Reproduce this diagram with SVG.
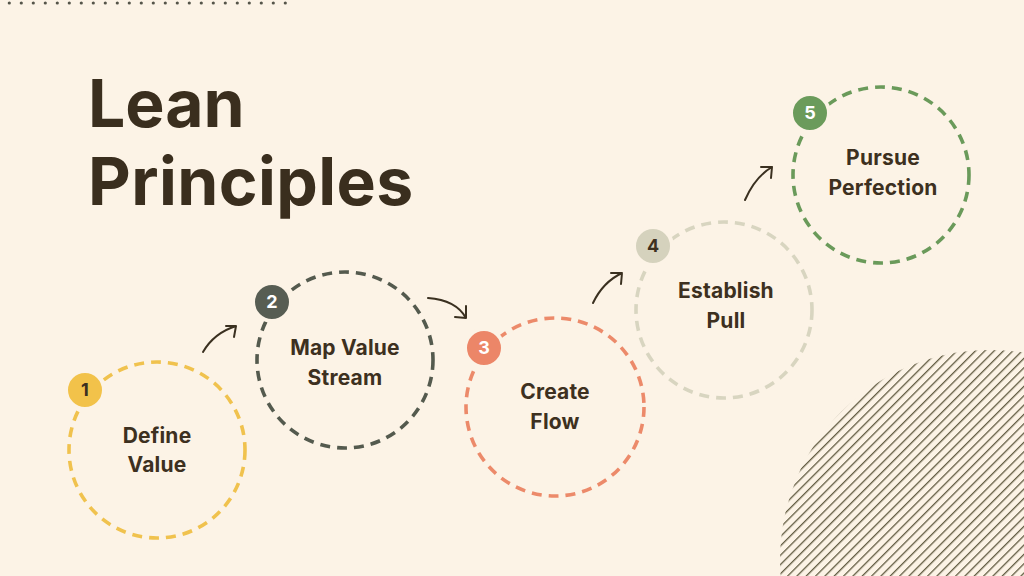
<svg xmlns="http://www.w3.org/2000/svg" width="1024" height="576" viewBox="0 0 1024 576">
<defs>
<style>
.ring{fill:none;stroke-width:3.6;stroke-dasharray:10 7;stroke-linecap:butt}
.badge{stroke:#fcf3e6;stroke-width:4}
.num{font-family:Inter,"Noto Sans",sans-serif;font-weight:700;font-size:18px;text-anchor:middle}
.lbl{font-family:Inter,"Noto Sans",sans-serif;font-weight:700;font-size:21px;fill:#3d3020;text-anchor:middle;letter-spacing:0.2px}
.title{font-family:Inter,"Noto Sans",sans-serif;font-weight:700;font-size:66px;fill:#3a2e1e}
.arr{fill:none;stroke:#3a3020;stroke-width:2;stroke-linecap:round;stroke-linejoin:round}
</style>
<pattern id="hatch" patternUnits="userSpaceOnUse" width="6.6" height="6.6" patternTransform="rotate(45)">
<rect width="6.6" height="6.6" fill="#fcf3e6"/>
<line x1="0" y1="0" x2="0" y2="6.6" stroke="#605a40" stroke-width="2.6"/>
</pattern>
<clipPath id="clipc"><rect width="1024" height="576"/></clipPath>
</defs>
<rect width="1024" height="576" fill="#fcf3e6"/>
<g id="dots" fill="#55554a">
<circle cx="9.3" cy="3" r="1.6"/><circle cx="21.3" cy="3" r="1.6"/><circle cx="33.3" cy="3" r="1.6"/><circle cx="45.3" cy="3" r="1.6"/><circle cx="57.3" cy="3" r="1.6"/><circle cx="69.3" cy="3" r="1.6"/><circle cx="81.3" cy="3" r="1.6"/><circle cx="93.3" cy="3" r="1.6"/><circle cx="105.3" cy="3" r="1.6"/><circle cx="117.3" cy="3" r="1.6"/><circle cx="129.3" cy="3" r="1.6"/><circle cx="141.3" cy="3" r="1.6"/><circle cx="153.3" cy="3" r="1.6"/><circle cx="165.3" cy="3" r="1.6"/><circle cx="177.3" cy="3" r="1.6"/><circle cx="189.3" cy="3" r="1.6"/><circle cx="201.3" cy="3" r="1.6"/><circle cx="213.3" cy="3" r="1.6"/><circle cx="225.3" cy="3" r="1.6"/><circle cx="237.3" cy="3" r="1.6"/><circle cx="249.3" cy="3" r="1.6"/><circle cx="261.3" cy="3" r="1.6"/><circle cx="273.3" cy="3" r="1.6"/><circle cx="285.3" cy="3" r="1.6"/>
</g>
<circle id="hatched" cx="990" cy="560" r="210" fill="url(#hatch)" clip-path="url(#clipc)"/>
<g id="title">
<text class="title" x="88" y="127">Lean</text>
<text class="title" x="88" y="205" letter-spacing="0.4">Principles</text>
</g>
<g id="connectors">
<path class="arr" d="M203,352 Q214,333 236,326 M226,326 L236,326 L234,337"/>
<path class="arr" d="M428,298 Q456,300 466,318 M466,306 L466,318 L455,317"/>
<path class="arr" d="M593,303 Q603,282 622,273 M611,273 L622,273 L621,284"/>
<path class="arr" d="M745,200 Q755,177 772,167 M761,167 L772,167 L771,178"/>
</g>
<g id="node1">
<circle class="ring" cx="157" cy="450" r="88" stroke="#f0c24e"/>
<circle class="badge" cx="85" cy="390" r="19" fill="#f2c24a"/>
<text class="num" x="85" y="396" fill="#3d3020">1</text>
<text class="lbl" x="157" y="443">Define</text>
<text class="lbl" x="157" y="472">Value</text>
</g>
<g id="node2">
<circle class="ring" cx="345" cy="360" r="88" stroke="#545a4e"/>
<circle class="badge" cx="272" cy="302" r="19" fill="#575d53"/>
<text class="num" x="272" y="308" fill="#ffffff">2</text>
<text class="lbl" x="345" y="355">Map Value</text>
<text class="lbl" x="345" y="385">Stream</text>
</g>
<g id="node3">
<circle class="ring" cx="555" cy="407" r="89" stroke="#ec8a6a"/>
<circle class="badge" cx="484" cy="348" r="19" fill="#ec8668"/>
<text class="num" x="484" y="354" fill="#ffffff">3</text>
<text class="lbl" x="555" y="399">Create</text>
<text class="lbl" x="555" y="429">Flow</text>
</g>
<g id="node4">
<circle class="ring" cx="724" cy="310" r="88" stroke="#d8d5c0"/>
<circle class="badge" cx="653" cy="246" r="19" fill="#d5d2bd"/>
<text class="num" x="653" y="252" fill="#3d3020">4</text>
<text class="lbl" x="726" y="298">Establish</text>
<text class="lbl" x="726" y="328">Pull</text>
</g>
<g id="node5">
<circle class="ring" cx="881" cy="175" r="88" stroke="#6a9a5a"/>
<circle class="badge" cx="810" cy="113" r="19" fill="#6b9b5b"/>
<text class="num" x="810" y="119" fill="#ffffff">5</text>
<text class="lbl" x="883" y="165">Pursue</text>
<text class="lbl" x="883" y="195">Perfection</text>
</g>
</svg>
